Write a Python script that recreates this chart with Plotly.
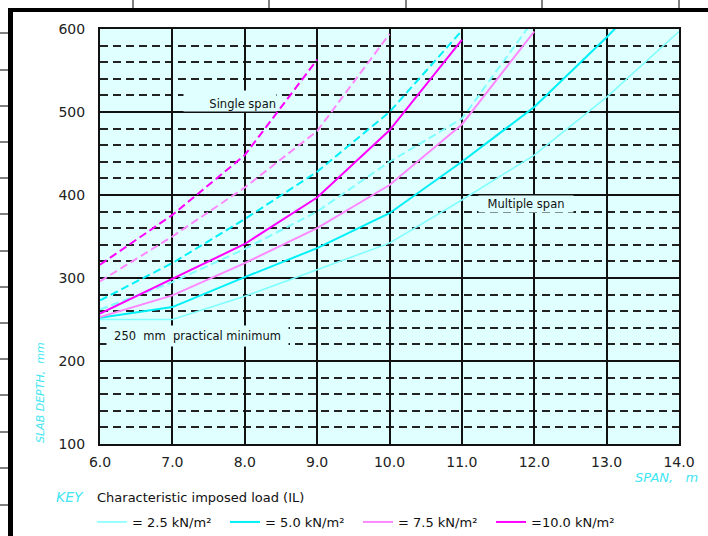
import plotly.graph_objects as go

# ---------------- data ----------------
loads = ["= 2.5 kN/m²", "= 5.0 kN/m²", "= 7.5 kN/m²", "=10.0 kN/m²"]
colors = ["#80FFFF", "#00F0F8", "#FF88FF", "#FF00FF"]

# Multiple span (solid)
ms_span_25 = [6.0, 7.0, 8.0, 9.0, 10.0, 11.0, 12.0, 13.0, 14.0]
ms_depth_25 = [250, 250, 278, 310, 342, 394, 448, 518, 597]
ms_span_50 = [6.0, 7.0, 8.0, 9.0, 10.0, 11.0, 12.0, 13.0, 14.0]
ms_depth_50 = [252, 265, 301, 336, 378, 440, 506, 590, 680]
ms_span_75 = [6.0, 7.0, 8.0, 9.0, 10.0, 11.0, 12.0]
ms_depth_75 = [253, 279, 318, 360, 412, 485, 597]
ms_span_100 = [6.0, 7.0, 8.0, 9.0, 10.0, 11.0]
ms_depth_100 = [257, 299, 341, 397, 478, 587]

# Single span (dashed)
ss_span_25 = [6.0, 7.0, 8.0, 9.0, 10.0, 11.0, 12.0]
ss_depth_25 = [262, 295, 335, 380, 440, 492, 612]
ss_span_50 = [6.0, 7.0, 8.0, 9.0, 10.0, 11.0]
ss_depth_50 = [273, 318, 371, 428, 500, 598]
ss_span_75 = [6.0, 7.0, 8.0, 9.0, 10.0]
ss_depth_75 = [296, 350, 409, 477, 594]
ss_span_100 = [6.0, 7.0, 8.0, 9.0]
ss_depth_100 = [316, 376, 448, 563]

x_ticks = [6, 7, 8, 9, 10, 11, 12, 13, 14]
y_ticks = [100, 200, 300, 400, 500, 600]

FONT = "'DejaVu Sans', Roboto, sans-serif"
CYAN_TXT = "#3FE6F2"

ms = [(ms_span_25, ms_depth_25), (ms_span_50, ms_depth_50),
      (ms_span_75, ms_depth_75), (ms_span_100, ms_depth_100)]
ss = [(ss_span_25, ss_depth_25), (ss_span_50, ss_depth_50),
      (ss_span_75, ss_depth_75), (ss_span_100, ss_depth_100)]

fig = go.Figure()
for i, (sx, sy) in enumerate(ss):
    fig.add_trace(go.Scatter(x=sx, y=sy, mode="lines", showlegend=False,
                             line=dict(color=colors[i], width=2, dash="8px,4px")))
for i, (sx, sy) in enumerate(ms):
    fig.add_trace(go.Scatter(x=sx, y=sy, mode="lines", name=loads[i],
                             line=dict(color=colors[i], width=1.6 if i == 0 else 2)))

W, H = 708, 536
L, R, T, B = 100, 29, 29, 92
PW, PH = W - L - R, H - T - B


def px(x):
    return (x - L) / PW


def py(y):
    return (H - B - y) / PH


shapes = []
# page frame (scanned page border)
shapes.append(dict(type="line", xref="paper", yref="paper", x0=px(8), x1=px(708),
                   y0=py(10), y1=py(10), line=dict(color="black", width=4)))
shapes.append(dict(type="line", xref="paper", yref="paper", x0=px(10.5), x1=px(10.5),
                   y0=py(8), y1=py(536), line=dict(color="black", width=5)))
for yy in [33, 70, 106, 142, 178, 214, 251, 287, 323, 359, 395, 432, 468, 505]:
    shapes.append(dict(type="line", xref="paper", yref="paper", x0=px(0), x1=px(9),
                       y0=py(yy), y1=py(yy), line=dict(color="black", width=1)))
for xx in [133, 269, 406, 542, 679]:
    shapes.append(dict(type="line", xref="paper", yref="paper", x0=px(xx), x1=px(xx),
                       y0=py(0), y1=py(9), line=dict(color="black", width=1)))

bg = "#E0FFFF"
ann = [
    dict(text="Single span", x=7.80, y=513, xref="x", yref="y", showarrow=False,
         width=92, height=20, align="right", valign="bottom", bgcolor=bg, borderpad=0,
         xanchor="center", yanchor="middle",
         font=dict(family=FONT, size=11.5, color="#111")),
    dict(text="Multiple span", x=11.88, y=389, xref="x", yref="y", showarrow=False,
         width=94, height=16, bgcolor=bg, borderpad=0, xanchor="center", yanchor="middle",
         font=dict(family=FONT, size=11.5, color="#111")),
    dict(text="250  mm  practical minimum", x=7.35, y=230, xref="x", yref="y", showarrow=False,
         width=181, height=20, bgcolor=bg, borderpad=0, xanchor="center", yanchor="middle",
         font=dict(family=FONT, size=11.5, color="#111")),
    dict(text="SLAB DEPTH,  mm", x=px(40), y=py(393), xref="paper", yref="paper",
         showarrow=False, textangle=-90, xanchor="center", yanchor="middle",
         font=dict(family=FONT, size=11, color=CYAN_TXT, style="italic")),
    dict(text="SPAN,   m", x=px(666), y=py(477), xref="paper", yref="paper", showarrow=False,
         xanchor="center", yanchor="middle",
         font=dict(family=FONT, size=13, color=CYAN_TXT, style="italic")),
    dict(text="KEY", x=px(70), y=py(497), xref="paper", yref="paper", showarrow=False,
         xanchor="center", yanchor="middle",
         font=dict(family=FONT, size=14, color=CYAN_TXT, style="italic")),
    dict(text="Characteristic imposed load (IL)", x=px(95), y=py(497), xref="paper",
         yref="paper", xanchor="left", yanchor="middle", showarrow=False,
         font=dict(family=FONT, size=13, color="#111")),
]

fig.update_layout(
    width=W, height=H,
    margin=dict(l=L, r=R, t=T, b=B, pad=0, autoexpand=False),
    paper_bgcolor="white", plot_bgcolor=bg,
    font=dict(family=FONT, size=13, color="#222"),
    shapes=shapes, annotations=ann,
    legend=dict(orientation="h", x=px(92), y=py(522), xanchor="left", yanchor="middle",
                entrywidth=88, entrywidthmode="pixels", itemwidth=30,
                bgcolor="rgba(0,0,0,0)", font=dict(family=FONT, size=13, color="#111")),
    xaxis=dict(range=[6, 14], tickvals=x_ticks, tickformat=".1f", showgrid=True,
               gridcolor="#111", gridwidth=1.8, zeroline=False, showline=True,
               linecolor="#111", linewidth=2, mirror=True, ticks="",
               ticklabelstandoff=4, tickfont=dict(size=14, color="#222")),
    yaxis=dict(range=[100, 600], tickvals=y_ticks, showgrid=True, gridcolor="#111",
               gridwidth=1.8, zeroline=False, showline=True, linecolor="#111",
               linewidth=2, mirror=True, ticks="", ticklabelstandoff=10,
               tickfont=dict(size=14, color="#222"),
               minor=dict(dtick=20, showgrid=True, gridcolor="#222", gridwidth=1.5,
                          griddash="8px,5px")),
)

fig.write_html("out.html")
